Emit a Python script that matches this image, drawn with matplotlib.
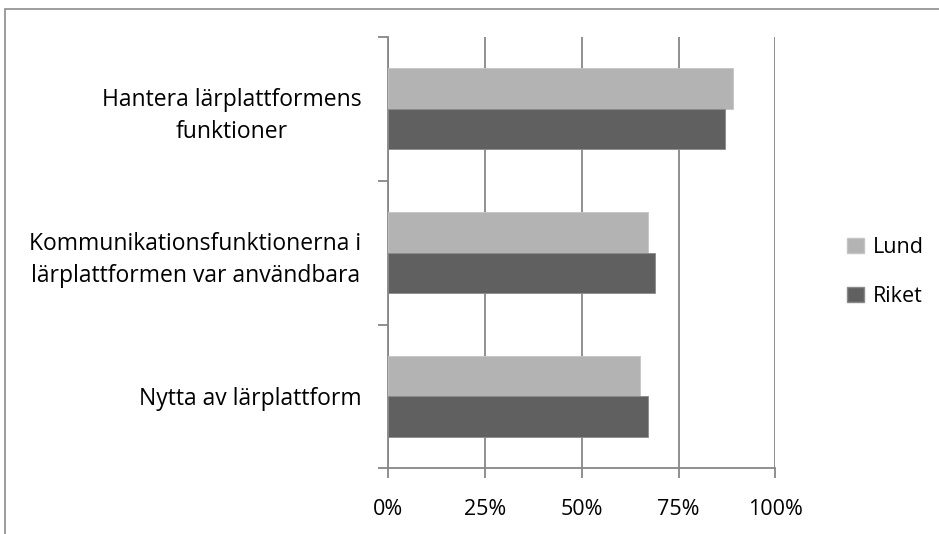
import matplotlib.pyplot as plt
from matplotlib.patches import Rectangle, Patch

# Data
categories = ['Nytta av lärplattform',
              'Kommunikationsfunktionerna i\nlärplattformen var användbara',
              'Hantera lärplattformens\nfunktioner']
lund = [65, 67, 89]
riket = [67, 69, 87]
xticks = [0, 25, 50, 75, 100]
xticklabels = ['0%', '25%', '50%', '75%', '100%']

lund_color = '#b3b3b3'
riket_color = '#606060'
grid_color = '#878787'

plt.rcParams['font.family'] = ['Open Sans', 'DejaVu Sans']

fig = plt.figure(figsize=(9.39, 5.34), dpi=100)
ax = fig.add_axes([388 / 939, 1 - 468.3 / 534, 387.4 / 939, (468.3 - 37) / 534])

# outer chart frame
fig.patches.append(Rectangle((5 / 939, -0.1), 1.2, 1 - 9 / 534 + 0.1,
                             transform=fig.transFigure, fill=False,
                             edgecolor='#8c8c8c', linewidth=1.2))

h = 0.282
ypos = list(range(len(categories)))
ax.barh([y + h / 2 for y in ypos], lund, height=h, color=lund_color,
        edgecolor='#c4c4c4', linewidth=0.6, zorder=3, label='Lund')
ax.barh([y - h / 2 for y in ypos], riket, height=h, color=riket_color,
        edgecolor='#8a8a8a', linewidth=0.6, zorder=3, label='Riket')

ax.set_xlim(0, 100)
ax.set_ylim(-0.5, len(categories) - 0.5)

ax.set_xticks(xticks)
ax.set_xticklabels(xticklabels, fontsize=15.5)
ax.tick_params(axis='x', direction='out', length=7, width=1.3, color=grid_color, pad=15)

# category boundaries as major ticks, labels on minor ticks
ax.set_yticks([-0.5, 0.5, 1.5, 2.5])
ax.set_yticklabels([])
ax.set_yticks(ypos, minor=True)
ax.set_yticklabels(categories, minor=True, fontsize=16.5, multialignment='center',
                   linespacing=1.45)
ax.tick_params(axis='y', which='major', direction='out', length=7, width=1.3, color=grid_color)
ax.tick_params(axis='y', which='minor', length=0, pad=19)

ax.grid(axis='x', color=grid_color, linewidth=1.3, zorder=0)
ax.set_axisbelow(True)
for s in ['top', 'right']:
    ax.spines[s].set_visible(False)
for s in ['left', 'bottom']:
    ax.spines[s].set_color(grid_color)
    ax.spines[s].set_linewidth(1.3)

handles = [Patch(facecolor=lund_color, edgecolor='#c4c4c4', label='Lund'),
           Patch(facecolor=riket_color, edgecolor='#8a8a8a', label='Riket')]
fig.legend(handles=handles, loc='center left', bbox_to_anchor=(828 / 939, 1 - 272 / 534),
           frameon=False, fontsize=15.5, handlelength=0.75, handleheight=0.75,
           handletextpad=0.45, labelspacing=1.3)

fig.savefig('out.png', dpi=100)
